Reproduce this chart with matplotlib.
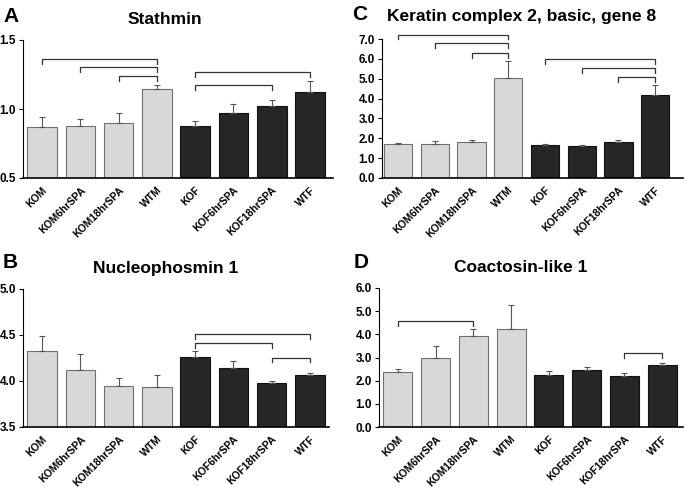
import matplotlib
matplotlib.use("Agg")
import matplotlib.pyplot as plt
import numpy as np

plt.rcParams['font.family'] = ['Liberation Sans', 'DejaVu Sans']
plt.rcParams['font.weight'] = 'bold'

categories = ["KOM", "KOM6hrSPA", "KOM18hrSPA", "WTM", "KOF", "KOF6hrSPA", "KOF18hrSPA", "WTF"]

stathmin_mean = [0.87, 0.88, 0.895, 1.142, 0.875, 0.972, 1.021, 1.122]
stathmin_err = [0.073, 0.046, 0.077, 0.029, 0.037, 0.061, 0.043, 0.080]
stathmin_pairs = [(0, 3, 1.36), (1, 3, 1.306), (2, 3, 1.238), (4, 7, 1.265), (4, 6, 1.173)]

keratin_mean = [1.71, 1.71, 1.81, 5.06, 1.64, 1.61, 1.81, 4.20]
keratin_err = [0.05, 0.13, 0.08, 0.84, 0.09, 0.07, 0.12, 0.46]
keratin_pairs = [(0, 3, 7.22), (1, 3, 6.78), (2, 3, 6.31), (4, 7, 5.98), (5, 7, 5.53), (6, 7, 5.08)]

npm_mean = [4.322, 4.123, 3.946, 3.931, 4.264, 4.145, 3.982, 4.065]
npm_err = [0.171, 0.167, 0.083, 0.131, 0.058, 0.072, 0.018, 0.022]
npm_pairs = [(4, 7, 4.507), (4, 6, 4.413), (6, 7, 4.254)]

coact_mean = [2.36, 2.98, 3.91, 4.23, 2.23, 2.46, 2.19, 2.69]
coact_err = [0.13, 0.53, 0.31, 1.02, 0.17, 0.13, 0.13, 0.09]
coact_pairs = [(0, 2, 4.58), (6, 7, 3.18)]

light = "#d8d8d8"
dark = "#262626"
colors = [light] * 4 + [dark] * 4
edges = ["#707070"] * 4 + ["#111111"] * 4

fig = plt.figure(figsize=(6.85, 4.91), dpi=100)
W, H = 685.0, 491.0


def make_axes(l, r, b, t):
    return fig.add_axes([l / W, 1 - b / H, (r - l) / W, (b - t) / H])


def panel(ax, mean, err, pairs, ylim, yticks, fmt, xlim):
    x = np.arange(len(categories))
    ax.bar(x, mean, width=0.77, color=colors, edgecolor=edges, linewidth=0.8, zorder=2)
    ax.errorbar(x, mean, yerr=[np.zeros(len(err)), err], fmt='none', ecolor="#555555",
                elinewidth=0.8, capsize=2.5, capthick=0.8, zorder=3)
    ax.set_ylim(*ylim)
    ax.set_xlim(*xlim)
    ax.set_yticks(yticks)
    ax.set_yticklabels([fmt.format(v) for v in yticks], fontsize=8.5, fontweight='bold')
    ax.set_xticks(x)
    ax.set_xticklabels(categories, rotation=45, ha='right', rotation_mode='anchor',
                       fontsize=7.5, fontweight='bold')
    ax.tick_params(axis='x', length=0, pad=5)
    ax.tick_params(axis='y', length=3, width=0.8, pad=2)
    for s in ['top', 'right']:
        ax.spines[s].set_visible(False)
    ax.spines['left'].set_linewidth(0.8)
    ax.spines['bottom'].set_linewidth(1.2)
    tick = 0.035 * (ylim[1] - ylim[0])
    for a, b, y in pairs:
        ax.plot([x[a], x[a], x[b], x[b]], [y - tick, y, y, y - tick], color="#333333",
                lw=0.9, clip_on=False, zorder=4)


axA = make_axes(23, 333, 178, 40)
panel(axA, stathmin_mean, stathmin_err, stathmin_pairs, (0.5, 1.5), [0.5, 1.0, 1.5], "{:.1f}", (-0.5, 7.6))
axC = make_axes(382, 683, 178, 39)
panel(axC, keratin_mean, keratin_err, keratin_pairs, (0, 7), np.arange(0, 7.1, 1.0), "{:.1f}", (-0.44, 7.76))
axB = make_axes(23, 329, 427, 289)
panel(axB, npm_mean, npm_err, npm_pairs, (3.5, 5.0), [3.5, 4.0, 4.5, 5.0], "{:.1f}", (-0.5, 7.5))
axD = make_axes(379, 683, 427, 288)
panel(axD, coact_mean, coact_err, coact_pairs, (0, 6), np.arange(0, 6.1, 1.0), "{:.1f}", (-0.5, 7.55))

# titles
fig.text(165 / W, 1 - 19 / H, "Stathmin", ha='center', va='center', fontsize=12.5, fontweight='bold')
fig.text(522 / W, 1 - 17 / H, "Keratin complex 2, basic, gene 8", ha='center', va='center', fontsize=12.5, fontweight='bold')
fig.text(166 / W, 1 - 268 / H, "Nucleophosmin 1", ha='center', va='center', fontsize=12.5, fontweight='bold')
fig.text(521 / W, 1 - 268 / H, "Coactosin-like 1", ha='center', va='center', fontsize=12.5, fontweight='bold')

# panel letters
for lx, ly, lab in [(3, 16, "A"), (352, 14, "C"), (3, 262, "B"), (354, 262, "D")]:
    fig.text(lx / W, 1 - ly / H, lab, ha='left', va='center', fontsize=15, fontweight='bold')

fig.savefig("out.png", dpi=100)
